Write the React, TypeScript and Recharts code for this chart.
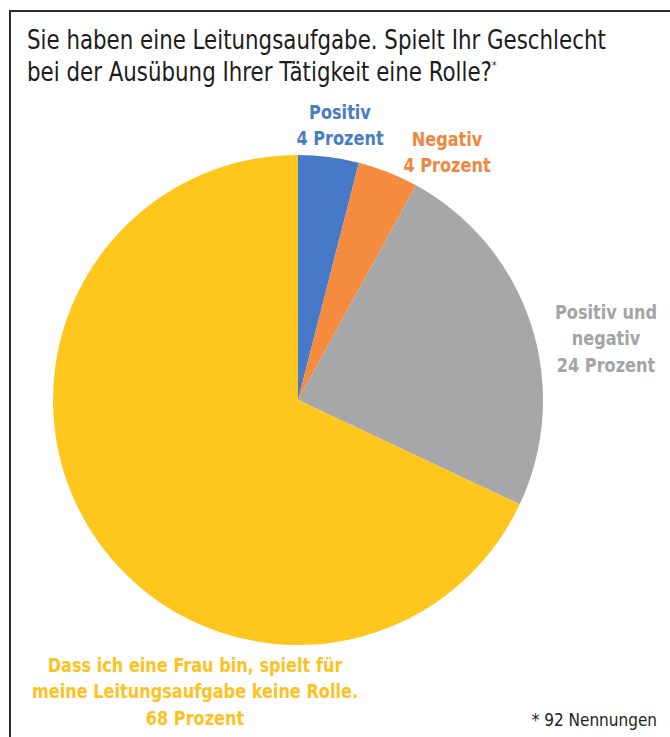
import React from 'react';
import { PieChart, Pie, Cell } from 'recharts';

const categories = ['Positiv', 'Negativ', 'Positiv und negativ', 'Dass ich eine Frau bin, spielt für meine Leitungsaufgabe keine Rolle.'];
const shares = [4, 4, 24, 68];
const sliceColors = ['#4779C9', '#F58B3E', '#A6A7A8', '#FFC61E'];
const labelColors = ['#4A7CC6', '#F08640', '#A3A4A6', '#FCC21F'];
const labelLines = [
  ['Positiv', '4 Prozent'],
  ['Negativ', '4 Prozent'],
  ['Positiv und', 'negativ', '24 Prozent'],
  ['Dass ich eine Frau bin, spielt für', 'meine Leitungsaufgabe keine Rolle.', '68 Prozent'],
];

// label anchor offsets from the pie centre (first line baseline)
const labelOffset = [
  [42, -281],
  [149, -254],
  [308, -81],
  [-103, 272],
];

const data = categories.map((name, i) => ({ name, value: shares[i] }));

const FONT = '"DejaVu Sans Condensed", "Liberation Sans", sans-serif';

const renderLabel = (props: any) => {
  const { cx, cy, index } = props;
  const [dx, dy] = labelOffset[index];
  return (
    <text
      key={`lbl-${index}`}
      transform={`translate(${cx + dx},${cy + dy}) scale(0.92,1)`}
      x={0}
      y={0}
      textAnchor="middle"
      fill={labelColors[index]}
      fontFamily={FONT}
      fontWeight="bold"
      fontSize={19.5}
    >
      {labelLines[index].map((line, j) => (
        <tspan key={j} x={0} dy={j === 0 ? 0 : 26.5}>{line}</tspan>
      ))}
    </text>
  );
};

export default function App() {
  return (
    <div style={{ position: 'absolute', left: 0, top: 0, width: 670, height: 737, background: '#fff', overflow: 'hidden' }}>
      <div style={{ position: 'absolute', left: 9, top: 10, width: 700, height: 800, borderLeft: '2px solid #2b2b2b', borderTop: '2px solid #2b2b2b' }} />
      <div style={{ position: 'absolute', left: 27, top: 24, fontFamily: FONT, fontSize: 26, lineHeight: '32px', color: '#1c1c1c', whiteSpace: 'nowrap', transform: 'scaleX(0.913)', transformOrigin: '0 0' }}>
        Sie haben eine Leitungsaufgabe. Spielt Ihr Geschlecht<br />
        bei der Ausübung Ihrer Tätigkeit eine Rolle?<sup style={{ fontSize: 11, verticalAlign: 'top', lineHeight: '20px' }}>*</sup>
      </div>
      <div style={{ position: 'absolute', left: 0, top: 0 }}>
        <PieChart width={670} height={737} margin={{ top: 0, right: 0, bottom: 0, left: 0 }}>
          <Pie
            data={data}
            dataKey="value"
            nameKey="name"
            cx={298}
            cy={400}
            outerRadius={245}
            startAngle={90}
            endAngle={-270}
            stroke="none"
            labelLine={false}
            label={renderLabel}
            isAnimationActive={false}
          >
            {data.map((d, i) => (
              <Cell key={d.name} fill={sliceColors[i]} />
            ))}
          </Pie>
        </PieChart>
      </div>
      <div style={{ position: 'absolute', right: 13, top: 710, fontFamily: FONT, fontSize: 17, color: '#222' }}>
        * 92 Nennungen
      </div>
    </div>
  );
}
